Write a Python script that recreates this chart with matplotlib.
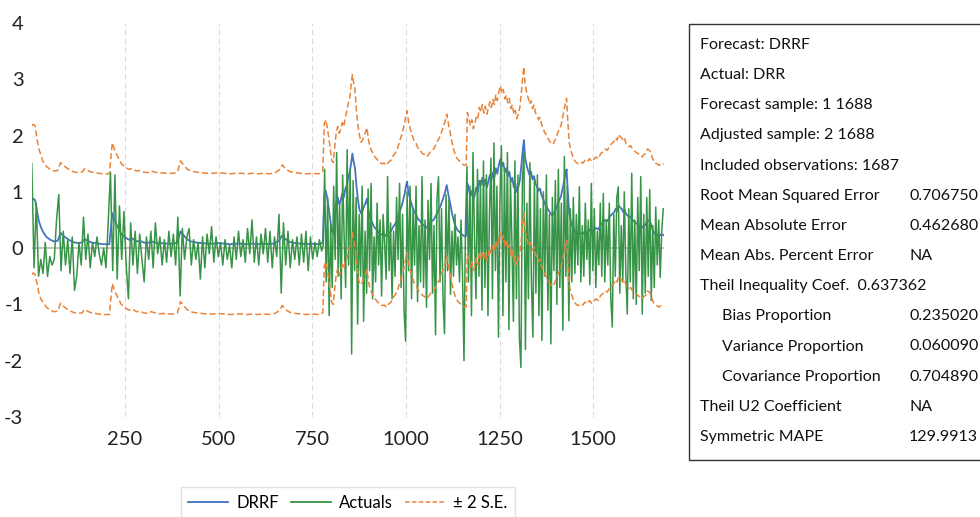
import numpy as np
import matplotlib
matplotlib.use("Agg")
import matplotlib.pyplot as plt
from matplotlib.lines import Line2D
from matplotlib.patches import Rectangle

plt.rcParams['font.family'] = ['Lato', 'DejaVu Sans']
plt.rcParams['axes.unicode_minus'] = False

drrf_obs = [
    1, 5, 10, 15, 20, 25, 30, 40, 50, 60,
    70, 78, 85, 95, 105, 115, 125, 135, 142, 150,
    160, 170, 180, 190, 200, 208, 212, 216, 222, 230,
    240, 250, 260, 270, 280, 290, 300, 310, 320, 330,
    340, 350, 360, 370, 380, 390, 398, 405, 415, 425,
    440, 455, 470, 485, 500, 515, 530, 545, 560, 575,
    590, 605, 620, 635, 650, 662, 670, 678, 690, 705,
    720, 735, 750, 765, 772,
    778, 782, 786, 790, 794, 798, 802, 806, 810, 814,
    818, 822, 826, 830, 834, 838, 842, 846, 850, 854,
    857, 860, 864, 868, 872, 876, 880, 884, 888, 892,
    896, 900, 905, 910, 915, 920, 925, 930, 936, 942,
    948, 954, 960, 966, 972, 978, 984, 990, 996, 1000,
    1003, 1007, 1012, 1017, 1022, 1027, 1032, 1038, 1044, 1050,
    1056, 1062, 1068, 1074, 1080, 1086, 1092, 1098, 1104, 1109,
    1113, 1118, 1123, 1128, 1133, 1138, 1144, 1150, 1156, 1161,
    1164, 1168, 1172, 1176, 1180, 1184, 1188, 1192, 1196, 1200,
    1204, 1208, 1212, 1216, 1220, 1224, 1228, 1232, 1236, 1240,
    1244, 1248, 1252, 1256, 1260, 1264, 1268, 1272, 1276, 1280,
    1284, 1288, 1292, 1296, 1300, 1304, 1308, 1312, 1315, 1318,
    1322, 1326, 1330, 1334, 1338, 1342, 1346, 1350, 1354, 1358,
    1362, 1366, 1370, 1374, 1378, 1382, 1386, 1390, 1394, 1398,
    1402, 1406, 1410, 1414, 1418, 1422, 1426, 1429, 1432, 1436,
    1440, 1445, 1450, 1455, 1460, 1466, 1472, 1478, 1484, 1490,
    1496, 1502, 1508, 1514, 1520, 1526, 1532, 1538, 1544, 1550,
    1556, 1560, 1564, 1568, 1572, 1576, 1580, 1584, 1588, 1592,
    1596, 1600, 1605, 1610, 1615, 1620, 1625, 1630, 1635, 1640,
    1645, 1650, 1654, 1658, 1662, 1666, 1670, 1676, 1682, 1688,
]
drrf_vals = [
    0.85, 0.88, 0.85, 0.65, 0.48, 0.38, 0.30, 0.20, 0.15, 0.12,
    0.13, 0.27, 0.22, 0.17, 0.13, 0.10, 0.09, 0.10, 0.16, 0.13,
    0.10, 0.09, 0.08, 0.07, 0.07, 0.07, 0.35, 0.62, 0.50, 0.38,
    0.25, 0.19, 0.15, 0.17, 0.12, 0.13, 0.10, 0.09, 0.12, 0.10,
    0.08, 0.09, 0.08, 0.08, 0.08, 0.10, 0.30, 0.24, 0.16, 0.12,
    0.10, 0.09, 0.08, 0.08, 0.09, 0.08, 0.07, 0.08, 0.08, 0.07,
    0.08, 0.07, 0.08, 0.07, 0.09, 0.14, 0.23, 0.16, 0.11, 0.09,
    0.08, 0.07, 0.08, 0.07, 0.08,
    0.10, 0.95, 1.02, 0.88, 0.70, 0.50, 0.30, 0.26, 0.55, 0.80,
    0.90, 0.78, 0.85, 0.97, 0.90, 1.05, 1.12, 1.25, 1.35, 1.52,
    1.68, 1.55, 1.42, 1.10, 0.85, 0.68, 0.62, 0.66, 0.74, 0.80,
    0.88, 0.66, 0.52, 0.45, 0.38, 0.34, 0.30, 0.26, 0.24, 0.25,
    0.21, 0.27, 0.30, 0.38, 0.44, 0.52, 0.66, 0.78, 0.95, 1.10,
    1.18, 0.98, 0.85, 0.74, 0.64, 0.60, 0.52, 0.48, 0.42, 0.40,
    0.36, 0.42, 0.48, 0.50, 0.58, 0.66, 0.74, 0.86, 0.98, 1.12,
    0.96, 0.80, 0.62, 0.48, 0.38, 0.32, 0.28, 0.24, 0.21, 0.22,
    1.15, 1.05, 0.92, 1.02, 0.86, 0.95, 1.08, 1.00, 1.20, 1.12,
    1.25, 1.10, 1.22, 1.08, 1.18, 1.30, 1.20, 1.34, 1.25, 1.42,
    1.32, 1.48, 1.58, 1.45, 1.52, 1.35, 1.42, 1.28, 1.36, 1.18,
    1.25, 1.08, 1.15, 1.00, 1.08, 1.20, 1.45, 1.75, 1.92, 1.62,
    1.48, 1.38, 1.30, 1.36, 1.22, 1.28, 1.14, 1.10, 1.02, 1.06,
    0.94, 0.88, 0.80, 0.76, 0.70, 0.66, 0.62, 0.58, 0.60, 0.66,
    0.72, 0.80, 0.86, 0.92, 1.05, 1.18, 1.32, 1.40, 1.02, 0.62,
    0.48, 0.38, 0.30, 0.26, 0.24, 0.27, 0.25, 0.30, 0.27, 0.33,
    0.28, 0.32, 0.36, 0.33, 0.42, 0.45, 0.50, 0.48, 0.56, 0.60,
    0.64, 0.70, 0.66, 0.76, 0.72, 0.70, 0.64, 0.68, 0.60, 0.58,
    0.54, 0.56, 0.50, 0.47, 0.44, 0.42, 0.38, 0.36, 0.40, 0.42,
    0.50, 0.48, 0.44, 0.34, 0.28, 0.25, 0.24, 0.21, 0.25, 0.23,
]

# forecast S.E. by stretch of observations (first obs of stretch, value)
se_start = [1, 15, 30, 780, 840, 852, 867, 880, 1190, 1330]
se_level = [0.66, 0.64, 0.625, 0.63, 0.66, 0.70, 0.66, 0.63, 0.65, 0.63]

# Actuals (DRR): every 6th obs from obs 1, then every 4th obs from obs 779
actual_a_start, actual_a_step = 1, 6
actual_a = [
    1.50, -0.35, 0.80, -0.50, -0.20, -0.45, 0.10, -0.50, -0.15, -0.30,
    -0.20, 0.50, 0.95, -0.40, 0.30, -0.30, 0.15, -0.45, 0.20, -0.75,
    -0.50, 0.10, -0.30, 0.55, -0.20, 0.25, -0.35, 0.10, -0.15, 0.20,
    -0.10, -0.30, 0.00, -0.35, 0.45, 1.35, -0.40, 1.30, -0.55, 0.75,
    -0.20, 0.65, -0.30, -0.90, 0.45, -0.30, 0.30, -0.45, 0.25, -0.20,
    -0.60, 0.20, -0.20, 0.30, -0.35, 0.45, -0.10, 0.20, -0.30, 0.15,
    -0.25, 0.30, -0.15, 0.25, -0.30, 0.55, -0.85, 0.35, -0.20, 0.20,
    0.35, -0.30, 0.15, -0.20, 0.10, -0.55, 0.20, -0.35, 0.25, -0.10,
    0.38, -0.25, 0.20, -0.15, 0.10, -0.30, 0.15, -0.20, 0.05, -0.35,
    0.20, -0.20, 0.30, -0.15, 0.15, -0.25, 0.35, -0.10, 0.50, -0.25,
    0.20, -0.30, 0.25, -0.10, 0.35, -0.25, 0.30, -0.35, 0.20, -0.15,
    0.60, -0.80, 0.45, -0.30, 0.30, -0.35, 0.15, -0.20, 0.20, -0.30,
    0.25, -0.25, 0.30, -0.40, 0.20, -0.20, 0.10, -0.15, 0.15, -0.05,
]
actual_b_start, actual_b_step = 779, 4
actual_b = [
    0.05, 1.40, -0.60, 0.90, -1.20, 0.40, -0.70, 1.10, -0.20, 1.70, -0.50, 0.80,
    -0.90, 1.30, 0.20, -0.70, 1.75, -0.30, 1.40, -1.88, 1.20, -0.40, 0.90, -1.35,
    0.60, -0.50, 1.10, -1.30, 0.30, -0.80, 1.05, -0.40, 1.15, -0.90, 0.20, -0.60,
    0.80, -0.30, 0.50, -0.85, 0.60, 0.10, -0.55, 1.27, -0.40, 0.45, -0.90, 0.30,
    -0.50, 0.90, -0.20, 1.15, -0.70, 0.60, -1.10, -1.65, 1.00, -0.40, 1.10, -0.90,
    0.70, -0.30, 1.10, -0.95, 0.40, -0.60, 1.27, -0.70, 0.50, -1.05, 0.85, -0.20,
    1.15, -0.80, 0.40, -1.54, 0.90, 1.27, -0.60, 0.70, -0.90, -1.52, 0.95, -0.40,
    0.86, -0.82, 0.30, -0.50, 0.60, -0.30, 0.20, -0.60, 0.50, -0.45, -2.00, 0.40,
    1.45, -0.60, 1.10, -1.20, 1.70, 0.20, -0.90, 1.40, -0.50, 1.20, -1.10, 1.55,
    -0.70, 1.30, -1.20, 0.60, 1.60, -0.90, 1.87, -0.40, 1.10, -1.58, 0.90, 1.82,
    -1.20, 1.40, -0.60, 1.70, -1.45, 1.20, 0.10, -1.30, 1.55, -0.90, 1.30, -1.60,
    -2.12, 1.20, 1.70, -1.80, 0.80, -0.90, 1.52, -0.60, -1.58, 1.20, -0.80, 1.30,
    -1.20, 0.70, -1.64, 1.00, -0.50, 1.30, -1.10, 0.60, -1.70, 0.90, -0.40, 1.20,
    -1.00, 1.40, -0.70, 0.80, -1.46, 1.63, -0.50, 1.10, -1.29, 0.70, -0.60, 0.90,
    -0.45, 0.60, -0.30, 1.09, -0.60, 0.40, -0.50, 0.80, -0.20, 0.50, -0.65, 1.15,
    -0.40, 0.70, -0.70, 0.30, -0.30, 0.80, -0.50, 0.97, -0.60, 0.50, -0.30, 0.80,
    -0.90, -1.40, 0.60, -0.50, 0.90, 1.09, -0.80, 0.40, -0.60, 1.00, -0.40, -1.17,
    0.70, -0.60, 1.33, -0.90, 0.50, -1.00, 0.90, -0.40, 1.27, -1.17, 0.60, -0.80,
    0.90, -0.50, 1.04, -0.93, 0.40, -0.70, 0.73, -0.30, 0.50, -0.52, 0.30, 0.70,
]

x_ticks = [250, 500, 750, 1000, 1250, 1500]
y_ticks = [-3, -2, -1, 0, 1, 2, 3, 4]

stats_rows = [
    ("Forecast: DRRF", "", False),
    ("Actual: DRR", "", False),
    ("Forecast sample: 1 1688", "", False),
    ("Adjusted sample: 2 1688", "", False),
    ("Included observations: 1687", "", False),
    ("Root Mean Squared Error", "0.706750", False),
    ("Mean Absolute Error", "0.462680", False),
    ("Mean Abs. Percent Error", "NA", False),
    ("Theil Inequality Coef.  0.637362", "", False),
    ("Bias Proportion", "0.235020", True),
    ("Variance Proportion", "0.060090", True),
    ("Covariance Proportion", "0.704890", True),
    ("Theil U2 Coefficient", "NA", False),
    ("Symmetric MAPE", "129.9913", False),
]

c_blue = "#4472c4"
c_green = "#379447"
c_orange = "#e8843a"

x_f = np.array(drrf_obs)
drrf = np.array(drrf_vals)
se = np.array(se_level)[np.searchsorted(se_start, x_f, side="right") - 1]

x_a = np.concatenate([actual_a_start + actual_a_step * np.arange(len(actual_a)),
                      actual_b_start + actual_b_step * np.arange(len(actual_b))])
actual = np.array(actual_a + actual_b)

W, H = 980, 517
fig = plt.figure(figsize=(W / 100, H / 100), dpi=100)
ax = fig.add_axes([31.8 / W, (H - 417) / H, (663.6 - 31.8) / W, 394 / H])

ax.axhline(0, color="#bdbdbd", lw=1.3, zorder=1)
ax.plot(x_f, drrf, color=c_blue, lw=1.3, zorder=2)
ax.plot(x_a, actual, color=c_green, lw=1.1, zorder=3)
ax.plot(x_f, drrf + 2 * se, color=c_orange, lw=1.1, ls=(0, (4, 2)), zorder=4)
ax.plot(x_f, drrf - 2 * se, color=c_orange, lw=1.1, ls=(0, (4, 2)), zorder=4)

ax.set_xlim(1, 1688)
ax.set_ylim(-3, 4)
ax.set_xticks(x_ticks)
ax.set_yticks(y_ticks)
ax.tick_params(axis="both", length=0, labelsize=14.5, colors="#222222")
ax.tick_params(axis="y", pad=6)
ax.tick_params(axis="x", pad=10)
ax.grid(axis="x", color="#dcdcdc", lw=0.8, ls=(0, (5, 3)))
ax.set_axisbelow(True)
for s in ax.spines.values():
    s.set_visible(False)

handles = [
    Line2D([], [], color=c_blue, lw=1.3),
    Line2D([], [], color=c_green, lw=1.3),
    Line2D([], [], color=c_orange, lw=1.1, ls=(0, (3, 1.5))),
]
fig.legend(handles, ["DRRF", "Actuals", "± 2 S.E."], loc="upper center",
           bbox_to_anchor=(348 / W, 1 - 479 / H), ncol=3, fontsize=12,
           frameon=True, fancybox=False, edgecolor="#d9d9d9",
           handlelength=2.4, handletextpad=0.5, columnspacing=0.7,
           borderpad=0.45)

# statistics box on the right
fig.patches.append(Rectangle((689 / W, (H - 460) / H), 0.4, 436 / H,
                             transform=fig.transFigure, fill=False,
                             edgecolor="#333333", lw=1.0))
for i, (label, value, indent) in enumerate(stats_rows):
    y = 1 - (45 + 30.15 * i) / H
    fig.text((722 if indent else 700) / W, y, label, fontsize=11.5,
             va="center", ha="left", color="#111111")
    if value:
        fig.text(909 / W, y, value, fontsize=11.5, va="center", ha="left",
                 color="#111111")

fig.savefig("out.png", dpi=100)
